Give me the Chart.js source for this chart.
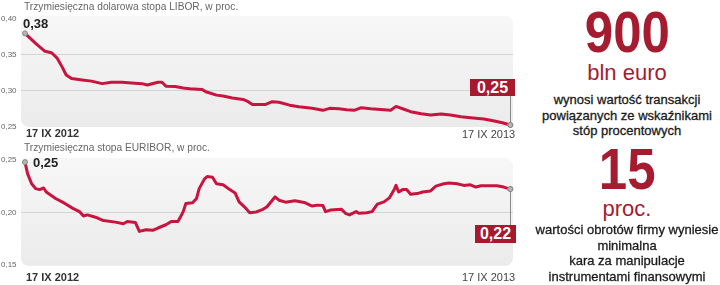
<!DOCTYPE html>
<html><head><meta charset="utf-8">
<script src="https://cdn.jsdelivr.net/npm/chart.js@4.4.0/dist/chart.umd.min.js"></script>
<style>
html,body{margin:0;padding:0;background:#fff;width:720px;height:285px;overflow:hidden;font-family:"Liberation Sans",Arial,sans-serif;}
#wrap{position:relative;width:720px;height:285px;}
.t{position:absolute;white-space:nowrap;line-height:1;}
canvas{position:absolute;}
.title{font-size:10.2px;color:#666;}
.start{font-size:13px;font-weight:bold;color:#222;}
.d1{font-size:11px;font-weight:bold;color:#333;}
.d2{font-size:11px;color:#444;}
.box{position:absolute;background:#a8182f;color:#fff;font-weight:bold;font-size:16px;text-align:center;line-height:17px;}
.rp{position:absolute;left:527px;width:200px;text-align:center;white-space:nowrap;line-height:1;}
.big{font-size:58px;font-weight:bold;color:#a51c30;}
.big span{display:inline-block;transform:scaleX(0.88);}
.unit{font-size:22px;color:#a51c30;}
.txt{font-size:13px;color:#1a1a1a;line-height:15.5px;-webkit-text-stroke:0.3px #1a1a1a;}
</style></head><body><div id="wrap">
<canvas id="c1" width="520" height="135" style="left:0;top:0"></canvas>
<canvas id="c2" width="520" height="134" style="left:0;top:140px"></canvas>

<div class="t title" style="left:24px;top:2px">Trzymiesięczna dolarowa stopa LIBOR, w proc.</div>
<div class="t start" style="left:23px;top:17px">0,38</div>
<div class="t d1" style="left:26px;top:128px">17 IX 2012</div>
<div class="t d2" style="left:462px;top:128.5px">17 IX 2013</div>
<div class="box" style="left:470px;top:78.5px;width:45px;height:17px">0,25</div>

<div class="t title" style="left:24px;top:143px">Trzymiesięczna stopa EURIBOR, w proc.</div>
<div class="t start" style="left:33px;top:155.5px">0,25</div>
<div class="t d1" style="left:26px;top:272px">17 IX 2012</div>
<div class="t d2" style="left:462px;top:272px">17 IX 2013</div>
<div class="box" style="left:475px;top:225px;width:41px;height:18px;line-height:18px">0,22</div>

<div class="rp big" style="top:3px"><span>900</span></div>
<div class="rp unit" style="top:62px">bln euro</div>
<div class="rp txt" style="top:92px">wynosi wartość transakcji<br>powiązanych ze wskaźnikami<br>stóp procentowych</div>
<div class="rp big" style="top:139.5px"><span>15</span></div>
<div class="rp unit" style="top:198px">proc.</div>
<div class="rp txt" style="top:222px">wartości obrotów firmy wyniesie<br>minimalna<br>kara za manipulacje<br>instrumentami finansowymi</div>
</div>
<script>
// Days since 17 IX 2012 and rates
const liborDays = [0,8,15,20,24,28,31,35,43,50,58,65,73,80,88,92,100,103,106,113,119,124,133,136,144,149,156,164,167,171,181,186,191,199,206,216,224,229,236,242,248,253,260,270,275,279,284,290,298,305,313,320,328,335,345,353,359,365];
const liborValues = [0.380,0.366,0.355,0.353,0.346,0.333,0.322,0.317,0.315,0.3135,0.310,0.312,0.312,0.311,0.310,0.308,0.312,0.312,0.3065,0.306,0.304,0.303,0.302,0.2987,0.294,0.2927,0.290,0.288,0.2857,0.281,0.281,0.2848,0.284,0.280,0.2778,0.2756,0.2728,0.2756,0.275,0.2737,0.273,0.2765,0.275,0.2737,0.273,0.2783,0.275,0.2709,0.268,0.2663,0.2677,0.2663,0.264,0.2625,0.2607,0.258,0.2556,0.2524];
const euriborDays = [0,2,5,8,11,14,16,23,30,36,41,44,47,53,59,68,74,77,83,86,91,96,100,106,110,115,117,119,121,126,129,131,135,137,141,144,149,154,158,161,165,169,174,179,182,188,191,196,203,210,216,220,224,226,230,238,241,244,249,251,257,261,265,270,274,278,279,281,284,287,290,295,299,305,309,315,319,325,330,335,339,343,350,355,360,365];
const euriborValues = [0.2480,0.2368,0.2274,0.2227,0.2218,0.2233,0.2195,0.2133,0.2086,0.2039,0.2008,0.1967,0.1977,0.1955,0.1923,0.1908,0.1892,0.1914,0.1905,0.1820,0.1836,0.1830,0.1852,0.1883,0.1914,0.1914,0.1960,0.2008,0.2086,0.2092,0.2133,0.2227,0.2320,0.2342,0.2336,0.2274,0.2264,0.2218,0.2186,0.2101,0.2054,0.1998,0.2005,0.2030,0.2054,0.2148,0.2117,0.2098,0.2111,0.2096,0.2061,0.2070,0.2067,0.2008,0.2023,0.2030,0.1992,0.1977,0.2008,0.1992,0.1998,0.2008,0.2080,0.2101,0.2139,0.2227,0.2258,0.2195,0.2218,0.2218,0.2174,0.2180,0.2195,0.2205,0.2251,0.2274,0.2280,0.2274,0.2258,0.2264,0.2242,0.2255,0.2255,0.2255,0.2242,0.2223];
const liborTicks = [0.25,0.30,0.35,0.40];
const liborGrid = [0.30,0.35];
const euriborTicks = [0.15,0.20,0.25];
const euriborGrid = [0.20];
const dateLabels = ['17 IX 2012','17 IX 2013'];

const bgBox = {
  id:'bgBox',
  beforeDraw(chart){
    const {ctx, chartArea:a} = chart;
    const g = ctx.createLinearGradient(0,a.top,0,a.bottom);
    g.addColorStop(0,'#f7f7f7'); g.addColorStop(1,'#ebebeb');
    ctx.save(); ctx.fillStyle=g; ctx.beginPath();
    ctx.roundRect(a.left,a.top,a.width,a.height,8); ctx.fill(); ctx.restore();
  }
};
const connector = {
  id:'connector',
  afterDatasetsDraw(chart, args, opts){
    const meta = chart.getDatasetMeta(0);
    const p = meta.data[meta.data.length-1];
    const ctx = chart.ctx;
    ctx.save(); ctx.strokeStyle='#8a8a8a'; ctx.lineWidth=1;
    ctx.beginPath(); ctx.moveTo(Math.round(p.x)+0.5,p.y); ctx.lineTo(Math.round(p.x)+0.5,opts.toY); ctx.stroke();
    ctx.restore();
    p.draw(ctx);
  }
};

function makeChart(id, days, vals, yMin, yMax, ticks, gridVals, padTop, toY){
  const n = days.length;
  return new Chart(document.getElementById(id), {
    type:'line',
    data:{datasets:[{
      data: days.map((d,i)=>({x:d,y:vals[i]})),
      borderColor:'#c8143e', borderWidth:3, tension:0,
      borderJoinStyle:'round', borderCapStyle:'round',
      pointRadius: c => (c.dataIndex===0 || c.dataIndex===n-1) ? 2.5 : 0,
      pointBackgroundColor:'#b5b5b5', pointBorderColor:'#888', pointBorderWidth:1,
      clip:false
    }]},
    options:{
      responsive:false, animation:false, events:[],
      layout:{padding:{left:1, right:7, top:padTop, bottom:8}},
      plugins:{legend:{display:false}, tooltip:{enabled:false}, connector:{toY:toY}},
      scales:{
        x:{type:'linear', min:-3, max:367, display:false},
        y:{
          min:yMin, max:yMax,
          afterFit(s){ s.width = 20; },
          afterBuildTicks(s){ s.ticks = ticks.map(v=>({value:v})); },
          border:{display:false},
          grid:{drawTicks:false, lineWidth:1, color: c => (c.tick && gridVals.includes(c.tick.value)) ? '#d4d4d4' : 'rgba(0,0,0,0)'},
          ticks:{crossAlign:'far', padding:0, color:'#666', font:{size:8, family:'Liberation Sans'},
                 callback: v => Number(v).toFixed(2).replace('.', ',')}
        }
      }
    },
    plugins:[bgBox, connector]
  });
}
makeChart('c1', liborDays, liborValues, 0.2496, 0.4042, liborTicks, liborGrid, 16, 95);
makeChart('c2', euriborDays, euriborValues, 0.1490, 0.2519, euriborTicks, euriborGrid, 18, 85);
</script>
</body></html>
